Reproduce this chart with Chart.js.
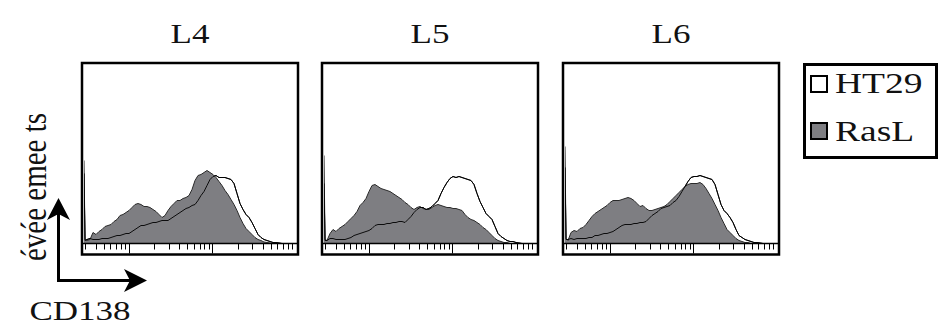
<!DOCTYPE html>
<html>
<head>
<meta charset="utf-8">
<script src="https://cdn.jsdelivr.net/npm/chart.js@4/dist/chart.umd.min.js"></script>
<style>
  body { margin: 0; background: #fff; }
  #fig { position: relative; width: 938px; height: 329px; overflow: hidden;
         font-family: "Liberation Serif", "Times New Roman", serif; color: #111; }
  .panel { position: absolute; top: 52px; width: 238px; height: 214px; }
  .txt { position: absolute; font-size: 28px; line-height: 1; white-space: nowrap; }
  .center { transform: translate(-50%, -50%) scaleX(1.25); }
  .left { transform-origin: 0 50%; transform: translateY(-50%) scaleX(1.25); }
  #ylab { transform: translate(-50%, -50%) rotate(-90deg) scaleY(1.25); }
  #legend { position: absolute; left: 803px; top: 63px; width: 129px; height: 90px; border: 3px solid #000; }
  .sw { position: absolute; left: 810px; width: 14px; height: 14px; border: 2px solid #000; }
  svg { position: absolute; left: 0; top: 0; }
</style>
</head>
<body>
<div id="fig">
  <div class="txt center" style="left:190px; top:34px">L4</div>
  <div class="txt center" style="left:430px; top:34px">L5</div>
  <div class="txt center" style="left:671px; top:34px">L6</div>

  <div class="panel" style="left:71px"><canvas id="p4" width="238" height="214"></canvas></div>
  <div class="panel" style="left:311px"><canvas id="p5" width="238" height="214"></canvas></div>
  <div class="panel" style="left:552px"><canvas id="p6" width="238" height="214"></canvas></div>

  <div id="legend"></div>
  <div class="sw" style="top:75px; background:#fff"></div>
  <div class="sw" style="top:122px; background:#7e7e82"></div>
  <div class="txt left" style="left:835px; top:83px; font-size:30px">HT29</div>
  <div class="txt left" style="left:835px; top:131px; font-size:30px">RasL</div>

  <div id="ylab" class="txt" style="left:34px; top:187px; font-size:29px">évée emee ts</div>
  <div class="txt center" style="left:80px; top:311px">CD138</div>

  <svg width="938" height="329">
    <line x1="58.5" y1="212" x2="58.5" y2="282" stroke="#000" stroke-width="3"/>
    <line x1="57" y1="280.5" x2="130" y2="280.5" stroke="#000" stroke-width="3"/>
    <polygon points="58.5,198 70,220 58.5,214 47,220" fill="#000"/>
    <polygon points="147,280.5 124,292 130,280.5 124,269" fill="#000"/>
  </svg>
</div>

<script>
// fluorescence channels (linear in log intensity)
const channels = [
  0, 1, 3, 6, 9, 12, 15, 18, 21, 24, 27, 30,
  33, 36, 39, 42, 45, 48, 51, 54, 57, 60, 63, 66,
  69, 72, 75, 78, 81, 84, 87, 90, 93, 96, 99, 102,
  105, 108, 111, 114, 117, 120, 123, 126, 129, 132, 135, 138,
  141, 144, 147, 150, 153, 156, 159, 162, 165, 168, 171, 174,
  177, 180, 183, 186, 189, 192, 195, 198, 201, 204, 207, 210
];

// log axis tick marks
const minorTicks = [3, 4, 5, 6, 7, 8, 9, 20, 30, 40, 50, 60, 70, 80, 90, 200, 300, 400, 500, 600, 700, 800, 900];
const majorTicks = [10, 100];

// event counts per channel
const l4RasL = [
  83, 4, 3, 4, 11, 9, 12, 14, 17, 18, 19, 22,
  24, 28, 29, 31, 33, 36, 39, 40, 39, 37, 37, 36,
  34, 32, 29, 26, 28, 33, 37, 40, 43, 43, 45, 46,
  48, 54, 63, 68, 69, 71, 73, 71, 69, 66, 62, 58,
  53, 49, 44, 39, 33, 26, 20, 15, 12, 9, 6, 4,
  3, 1.5, 1, 0.5, 0, 0, 0, 0, 0, 0, 0, 0
];
const l4HT29 = [
  70, 3, 4, 5, 4, 4, 4, 5, 5, 5, 6, 7,
  8, 8, 9, 10, 10, 12, 14, 16, 18, 18, 19, 20,
  21, 21, 22, 23, 23, 23, 25, 27, 29, 31, 33, 35,
  36, 38, 39, 43, 48, 52, 58, 64, 67, 68, 66, 66,
  66, 65, 64, 60, 50, 40, 34, 29, 26, 21, 15, 9,
  6, 4, 3, 2, 1, 1, 0.5, 0, 0, 0, 0, 0
];
const l5RasL = [
  88, 4, 3, 10, 14, 12, 15, 17, 19, 22, 25, 28,
  32, 38, 41, 45, 52, 58, 59, 57, 55, 54, 53, 52,
  50, 48, 46, 44, 41, 39, 36, 34, 36, 37, 35, 34,
  34, 36, 38, 39, 38, 37, 36, 36, 35, 35, 34, 33,
  29, 26, 24, 23, 21, 19, 16, 14, 11, 8, 5, 3,
  2, 1, 1, 0, 0, 0, 0, 0, 0, 0, 0, 0
];
const l5HT29 = [
  60, 3, 3, 5, 5, 4, 4, 4, 4, 5, 6, 8,
  9, 10, 11, 12, 13, 15, 18, 19, 19, 19, 20, 20,
  21, 21, 22, 22, 21, 24, 27, 31, 34, 36, 36, 34,
  35, 37, 40, 43, 50, 56, 61, 65, 67, 66, 67, 66,
  65, 64, 63, 59, 50, 42, 36, 30, 27, 24, 17, 10,
  7, 5, 3, 2, 2, 1, 0.5, 0, 0, 0, 0, 0
];
const l6RasL = [
  97, 5, 3, 11, 13, 12, 15, 16, 19, 23, 27, 30,
  32, 34, 36, 38, 41, 43, 43, 43, 44, 45, 46, 45,
  43, 40, 37, 38, 35, 33, 33, 34, 35, 36, 37, 39,
  42, 45, 48, 51, 54, 57, 59, 60, 60, 60, 61, 59,
  55, 50, 45, 39, 33, 26, 20, 14, 11, 8, 5, 3,
  2, 1, 1, 0, 0, 0, 0, 0, 0, 0, 0, 0
];
const l6HT29 = [
  76, 4, 4, 5, 4, 5, 5, 5, 5, 6, 6, 8,
  8, 9, 10, 10, 11, 12, 14, 16, 18, 19, 19, 19,
  20, 20, 21, 21, 22, 25, 28, 30, 32, 35, 36, 37,
  38, 41, 43, 47, 52, 57, 62, 66, 67, 67, 68, 67,
  66, 65, 64, 59, 49, 39, 33, 30, 26, 21, 14, 8,
  6, 4, 3, 2, 1, 1, 0.5, 0, 0, 0, 0, 0
];

// frame, baseline and log ticks under each histogram
const panelFrame = {
  id: 'panelFrame',
  afterDatasetsDraw(chart) {
    const { ctx, chartArea: a } = chart;
    const logX = chart.scales.xLog;
    ctx.save();
    ctx.strokeStyle = '#000';
    ctx.lineWidth = 1;
    ctx.beginPath();
    minorTicks.forEach(v => {
      const px = Math.round(logX.getPixelForValue(v)) + 0.5;
      ctx.moveTo(px, a.bottom);
      ctx.lineTo(px, a.bottom + 6);
    });
    majorTicks.forEach(v => {
      const px = Math.round(logX.getPixelForValue(v)) + 0.5;
      ctx.moveTo(px, a.bottom);
      ctx.lineTo(px, a.bottom + 10);
    });
    ctx.stroke();
    ctx.lineWidth = 1.5;
    ctx.beginPath();
    ctx.moveTo(a.left - 2, a.bottom);
    ctx.lineTo(a.right + 2, a.bottom);
    ctx.stroke();
    ctx.lineWidth = 2.5;
    ctx.strokeRect(a.left - 2, a.top - 1, a.width + 4, a.height + 12);
    ctx.restore();
  }
};

function makePanel(id, rasl, ht29) {
  new Chart(document.getElementById(id), {
    type: 'line',
    data: {
      labels: channels,
      datasets: [
        { label: 'HT29', data: ht29, order: 0, fill: false,
          borderColor: 'rgba(0,0,0,0.9)', borderWidth: 1 },
        { label: 'RasL', data: rasl, order: 1, fill: 'origin',
          backgroundColor: '#7e7e82', borderColor: '#2b2b2b', borderWidth: 1 },
        { label: 'HT29', data: ht29, order: 2, fill: 'origin',
          backgroundColor: '#ffffff', borderColor: '#000', borderWidth: 1 }
      ]
    },
    options: {
      responsive: false,
      animation: false,
      devicePixelRatio: 1,
      events: [],
      layout: { padding: { left: 13, right: 13, top: 12, bottom: 22.5 } },
      elements: { point: { radius: 0 }, line: { tension: 0 } },
      plugins: { legend: { display: false }, tooltip: { enabled: false } },
      scales: {
        x: { type: 'linear', min: 0, max: 212, display: false },
        xLog: { type: 'logarithmic', position: 'bottom', min: 2.9, max: 1000, display: false },
        y: { min: 0, max: 179.5, display: false }
      }
    },
    plugins: [panelFrame]
  });
}

makePanel('p4', l4RasL, l4HT29);
makePanel('p5', l5RasL, l5HT29);
makePanel('p6', l6RasL, l6HT29);
</script>
</body>
</html>
